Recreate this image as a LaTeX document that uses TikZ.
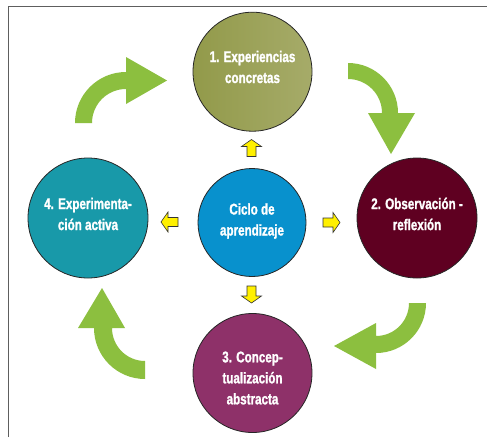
\documentclass[tikz,border=0pt]{standalone}
\usepackage{fontspec}
\setmainfont{Liberation Sans}[FakeStretch=0.75, BoldFeatures={FakeBold=1.3}]
\definecolor{frameg}{HTML}{5E5E5E}
\definecolor{oliveL}{HTML}{929A4A}
\definecolor{oliveR}{HTML}{A6AB69}
\definecolor{maroon}{HTML}{5F0021}
\definecolor{plum}{HTML}{8E3169}
\definecolor{teal2}{HTML}{1899A9}
\definecolor{blue2}{HTML}{0891CD}
\definecolor{green2}{HTML}{8CBF3F}
\definecolor{yel}{HTML}{FFF000}
\tikzset{
  stage/.style={circle, draw=black!85, line width=0.8pt, minimum size=#1, inner sep=0pt},
  lbl/.style={text=white, font=\bfseries\fontsize{15.5}{21}\selectfont, align=center, inner sep=0pt},
  garrow/.style={fill=green2, draw=none},
  yarrow/.style={fill=yel, draw=black!80, line width=0.6pt, line join=miter},
}
\newcommand{\yelarrow}[3]{%
  \begin{scope}[shift={(#1,#2)}, rotate=#3]
    \draw[yarrow] (-8.5,-4.5) -- (1.5,-4.5) -- (1.5,-10) -- (8.5,0) -- (1.5,10) -- (1.5,4.5) -- (-8.5,4.5) -- cycle;
  \end{scope}}
\begin{document}
\begin{tikzpicture}[x=1pt,y=-1pt]
\useasboundingbox (0,0) rectangle (487,437);
\fill[white] (0,0) rectangle (487,437);
\draw[frameg, line width=1.6pt] (8.5,437) -- (8.5,6.5) -- (487,6.5);

% circles
\node[stage=119pt, left color=oliveL, right color=oliveR] (c1) at (252.5,71.7) {};
\node[stage=120pt, fill=maroon] (c2) at (417,218) {};
\node[stage=119pt, fill=plum] (c3) at (252.5,373) {};
\node[stage=120pt, fill=teal2] (c4) at (88,218) {};
\node[stage=108pt, fill=blue2] (c0) at (252,222.5) {};

% labels
\node[lbl] (t1) at (252.5,67) {1. Experiencias\\concretas};
\node[lbl] (t2) at (417,214) {2. Observación -\\reflexión};
\node[lbl] (t3) at (252.5,378) {3. Concep-\\tualización\\abstracta};
\node[lbl] (t4) at (88,214) {4. Experimenta-\\ción activa};
\node[lbl] (t0) at (252,221) {Ciclo de\\aprendizaje};

% green curved arrows
\fill[garrow] (75,123) arc[start angle=180,end angle=270,radius=51] -- (126,57) -- (167,80.5) -- (126,104) -- (126,89) arc[start angle=270,end angle=180,radius=34] -- cycle;
\fill[garrow] (348,63) arc[start angle=-90,end angle=0,radius=50] -- (415,113) -- (391,154) -- (368,113) -- (382,113) arc[start angle=0,end angle=-90,radius=34] -- cycle;
\fill[garrow] (426,303) arc[start angle=0,end angle=90,radius=50] -- (376,369) -- (334,346) -- (376,323) -- (376,336) arc[start angle=90,end angle=0,radius=33] -- cycle;
\fill[garrow] (145,379) arc[start angle=90,end angle=180,radius=51] -- (78,328) -- (102,288) -- (125,328) -- (112,328) arc[start angle=180,end angle=90,radius=33] -- cycle;

% yellow arrows
\yelarrow{251.5}{148}{90}
\yelarrow{251.5}{294.5}{-90}
\yelarrow{169.5}{222}{180}
\yelarrow{331.5}{222.5}{0}
\end{tikzpicture}
\end{document}
